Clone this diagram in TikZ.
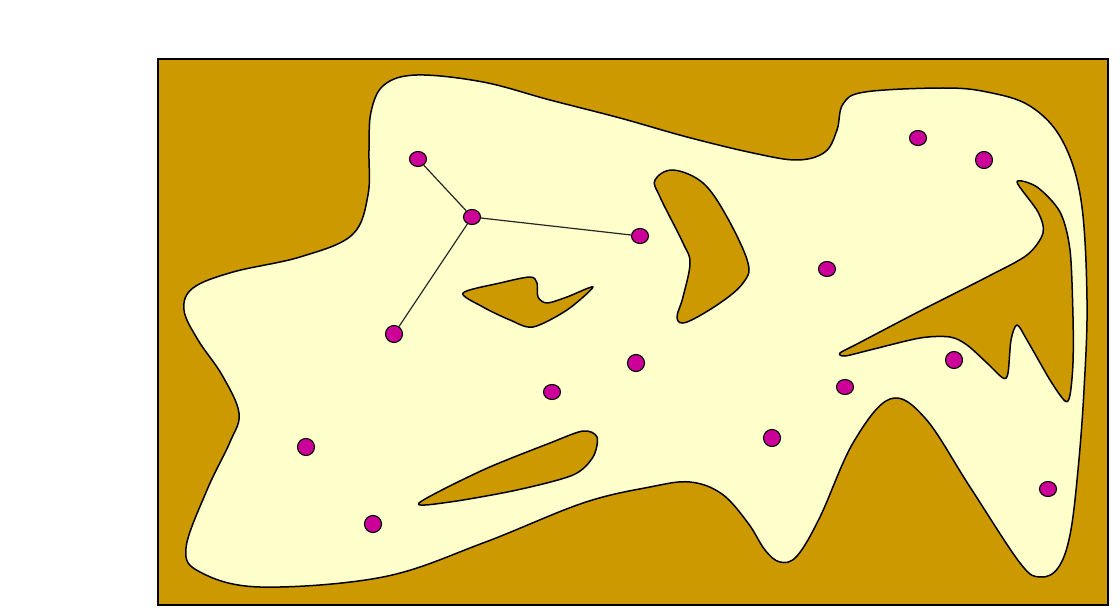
\documentclass[tikz,border=0pt]{standalone}
\definecolor{darkland}{HTML}{CC9900}
\definecolor{lightland}{HTML}{FFFFCC}
\definecolor{dotcol}{HTML}{CC0099}
\tikzset{
  landline/.style={draw=black,line width=1.5pt,line join=round},
  pin/.style={ellipse,draw=black,line width=1.1pt,fill=dotcol,minimum width=17pt,minimum height=15pt,inner sep=0pt},
  rpin/.style={pin,minimum height=17pt},
  link/.style={draw=black!85,line width=1.2pt}
}
\usetikzlibrary{shapes.geometric}
\begin{document}
\begin{tikzpicture}[x=1pt,y=-1pt]
\useasboundingbox (0,0) rectangle (1120,615);
% background
\filldraw[fill=darkland,draw=black,line width=1.5pt] (158,59) rectangle (1108,605);
% light region
\filldraw[landline,fill=lightland] plot[smooth cycle,tension=0.6] coordinates {
 (417,75) (384,85) (371,112) (369,150) (368,195) (352,235) (300,257) (233,272)
 (193,288) (184,310) (198,340) (222,375) (239,413) (230,442) (207,490) (186,548)
 (200,572) (260,587) (383,577) (483,543) (583,503) (650,487) (690,482) (722,494)
 (748,523) (765,550) (780,562) (797,556) (820,517) (853,443) (890,399) (925,418)
 (970,487) (1020,563) (1040,577) (1058,568) (1070,535) (1078,470) (1084,390) (1087,300)
 (1081,200) (1062,140) (1030,106) (987,92) (943,88) (865,92) (843,104) (837,130)
 (825,152) (797,160) (753,153) (687,137) (620,118) (550,100) (483,82)};
% hole 1
\filldraw[landline,fill=darkland] plot[smooth cycle,tension=0.5] coordinates {
 (463,293) (500,283) (530,277) (537,283) (538,297) (547,303) (567,297) (593,287)
 (567,310) (533,327) (510,320) (483,307)};
% hole 2
\filldraw[landline,fill=darkland] plot[smooth cycle,tension=0.6] coordinates {
 (655,180) (673,170) (703,183) (727,217) (748,263) (743,283) (720,303) (687,322)
 (677,318) (683,297) (690,263) (683,243) (660,197)};
% hole 3
\filldraw[landline,fill=darkland] plot[smooth cycle,tension=0.5] coordinates {
 (419,503) (483,470) (550,443) (583,431) (597,437) (593,457) (573,475) (517,490) (450,502)};
% hole 4
\filldraw[landline,fill=darkland] plot[smooth cycle,tension=0.5] coordinates {
 (1017,182) (1037,187) (1060,212) (1070,250) (1073,317) (1073,363) (1070,395) (1065,401)
 (1050,380) (1027,340) (1017,325) (1011,340) (1008,373) (1003,378) (987,363) (967,345)
 (950,337) (920,338) (870,350) (845,356) (840,353) (857,344) (920,311) (987,277)
 (1027,255) (1043,233) (1038,212)};
% pins
\node[pin]  (p1)  at (418,159) {};
\node[pin]  (p2)  at (472,217) {};
\node[pin]  (p3)  at (640,236) {};
\node[rpin] (p4)  at (394,334) {};
\node[rpin] (p5)  at (306,447) {};
\node[rpin] (p6)  at (373,524) {};
\node[pin]  (p7)  at (552,392) {};
\node[rpin] (p8)  at (636,363) {};
\node[pin]  (p9)  at (918,138) {};
\node[rpin] (p10) at (984,160) {};
\node[pin]  (p11) at (827,269) {};
\node[rpin] (p12) at (954,360) {};
\node[pin]  (p13) at (845,387) {};
\node[rpin] (p14) at (772,438) {};
\node[pin]  (p15) at (1048,489) {};
% links
\draw[link] (p1) -- (p2);
\draw[link] (p2) -- (p3);
\draw[link] (p2) -- (p4);
\end{tikzpicture}
\end{document}
